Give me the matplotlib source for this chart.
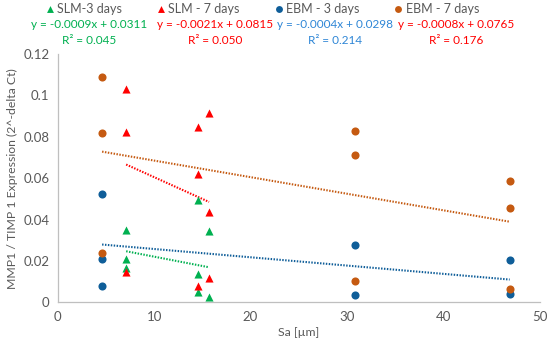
import numpy as np
import matplotlib
matplotlib.use('Agg')
import matplotlib.pyplot as plt

plt.rcParams['font.family'] = ['Lato', 'DejaVu Sans']

# ── Data ─────────────────────────────────────────────────────────────────
slm3_x = [7.1, 7.1, 7.1, 14.6, 14.6, 14.6, 15.7, 15.7]
slm3_y = [0.035, 0.0208, 0.0167, 0.0494, 0.0138, 0.0048, 0.0346, 0.0027]

slm7_x = [7.1, 7.1, 7.1, 14.6, 14.6, 14.6, 15.7, 15.7, 15.7]
slm7_y = [0.103, 0.0823, 0.0145, 0.0846, 0.0619, 0.0079, 0.0915, 0.0435, 0.0119]

ebm3_x = [4.6, 4.6, 4.6, 30.8, 30.8, 46.9, 46.9]
ebm3_y = [0.0523, 0.0211, 0.0079, 0.0275, 0.0034, 0.0203, 0.0039]

ebm7_x = [4.6, 4.6, 4.6, 30.8, 30.8, 30.8, 46.9, 46.9, 46.9]
ebm7_y = [0.109, 0.082, 0.024, 0.083, 0.0713, 0.0104, 0.0585, 0.0454, 0.0063]

# trendline slope / intercept / R² as printed on the chart
slm3_fit = (-0.0009, 0.0311, 0.045)
slm7_fit = (-0.0021, 0.0815, 0.050)
ebm3_fit = (-0.0004, 0.0298, 0.214)
ebm7_fit = (-0.0008, 0.0765, 0.176)

GREEN = '#00B050'
RED = '#FF0000'
BLUE = '#0F5E99'
BROWN = '#C55A11'
EQ_BLUE = '#2E86D6'
GREY = '#595959'

fig = plt.figure(figsize=(5.5, 3.48), dpi=100)
ax = fig.add_axes([0.105, 0.131, 0.876, 0.714])

series = [
    ('SLM-3 days', slm3_x, slm3_y, slm3_fit, GREEN, '^', GREEN),
    ('SLM - 7 days', slm7_x, slm7_y, slm7_fit, RED, '^', RED),
    ('EBM - 3 days', ebm3_x, ebm3_y, ebm3_fit, BLUE, 'o', EQ_BLUE),
    ('EBM - 7 days', ebm7_x, ebm7_y, ebm7_fit, BROWN, 'o', RED),
]

handles = []
for name, xs, ys, fit, col, mk, eqcol in series:
    h = ax.scatter(xs, ys, marker=mk, s=34, color=col, zorder=3,
                   linewidths=0, label=name)
    handles.append(h)
    xx = np.array([min(xs), max(xs)])
    ax.plot(xx, fit[0] * xx + fit[1], color=col, lw=1.5,
            linestyle=(0, (0.7, 0.7)), zorder=2)

ax.set_xlim(0, 50)
ax.set_ylim(0, 0.12)
ax.set_xticks([0, 10, 20, 30, 40, 50])
ax.set_yticks([0, 0.02, 0.04, 0.06, 0.08, 0.1, 0.12])
ax.set_yticklabels(['0', '0.02', '0.04', '0.06', '0.08', '0.1', '0.12'])
ax.tick_params(length=0, labelsize=9.5, colors=GREY, pad=6)
for s in ['top', 'right']:
    ax.spines[s].set_visible(False)
for s in ['left', 'bottom']:
    ax.spines[s].set_color('#BFBFBF')
    ax.spines[s].set_linewidth(0.9)

ax.set_xlabel('Sa [µm]', fontsize=8.8, color=GREY, labelpad=3)
ax.set_ylabel('MMP1 / TIMP 1 Expression (2^-delta Ct)', fontsize=8.8,
              color=GREY, labelpad=4)

fig.legend(handles=handles, loc='center', bbox_to_anchor=(0.475, 0.975),
           ncol=4, frameon=False, fontsize=9, labelcolor=GREY,
           handletextpad=0.1, columnspacing=2.6, handlelength=1.0,
           markerscale=0.85)

# trendline equations above the plot
eq_x = [89, 215, 335, 456]
for (name, xs, ys, fit, col, mk, eqcol), px in zip(series, eq_x):
    fig.text(px / 550, 1 - 24 / 348,
             f'y = {fit[0]:.4f}x + {fit[1]:.4f}', ha='center', va='center',
             fontsize=8.5, color=eqcol)
    fig.text(px / 550, 1 - 41 / 348, f'R² = {fit[2]:.3f}',
             ha='center', va='center', fontsize=8.5, color=eqcol)

fig.savefig('out.png', dpi=100)
